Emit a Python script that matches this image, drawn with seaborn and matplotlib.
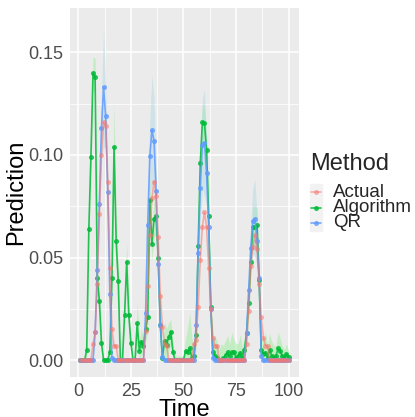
import numpy as np
import pandas as pd
import matplotlib
matplotlib.use("Agg")
import matplotlib.pyplot as plt
from matplotlib.lines import Line2D
from matplotlib.patches import Rectangle
import seaborn as sns

# values, time = 1..100
time = list(range(1, 101))

actual = [0, 0, 0, 0, 0, 0, 0.008, 0.0135, 0.037, 0.071,
          0.100, 0.116, 0.114, 0.087, 0.045, 0.015, 0.007, 0.007, 0, 0,
          0, 0, 0, 0, 0, 0, 0, 0, 0, 0,
          0, 0.014, 0.036, 0.061, 0.079, 0.087, 0.080, 0.060, 0.031, 0.016,
          0.008, 0.007, 0, 0, 0, 0, 0, 0, 0, 0,
          0, 0, 0, 0, 0.008, 0.010, 0.026, 0.049, 0.065, 0.072,
          0.065, 0.045, 0.025, 0.011, 0.007, 0.007, 0, 0, 0, 0,
          0, 0, 0, 0, 0, 0, 0, 0, 0, 0.008,
          0.024, 0.046, 0.055, 0.061, 0.054, 0.037, 0.021, 0.011, 0.007, 0.007,
          0, 0, 0, 0, 0, 0, 0, 0, 0, 0]

algorithm = [0, 0, 0, 0.005, 0.064, 0.099, 0.140, 0.138, 0.040, 0.029,
             0.0085, 0, 0, 0, 0.004, 0.040, 0.104, 0.058, 0.0385, 0,
             0, 0.022, 0.048, 0.022, 0.0085, 0, 0, 0.018, 0.0045, 0.009,
             0.007, 0.015, 0.021, 0.078, 0.0565, 0.069, 0.070, 0.0497, 0.017, 0.001,
             0.0094, 0.0073, 0.0114, 0.0138, 0.004, 0, 0, 0, 0, 0,
             0.0045, 0.0037, 0.006, 0.001, 0.002, 0.012, 0.0556, 0.096, 0.116, 0.1154,
             0.1024, 0.070, 0.026, 0.004, 0.002, 0.001, 0, 0, 0.001, 0.0025,
             0.004, 0.002, 0.0037, 0.004, 0.001, 0.002, 0.0036, 0.001, 0.005, 0.013,
             0.028, 0.048, 0.065, 0.065, 0.066, 0.039, 0.005, 0.003, 0.0036, 0.001,
             0.005, 0.002, 0.001, 0.002, 0.0057, 0.0045, 0.002, 0.001, 0.003, 0.0013]

qr = [0, 0, 0, 0, 0, 0, 0, 0.0135, 0.044, 0.076,
      0.113, 0.133, 0.119, 0.082, 0.032, 0.001, 0, 0, 0, 0,
      0, 0, 0, 0, 0, 0, 0, 0, 0, 0,
      0, 0.023, 0.066, 0.0995, 0.112, 0.107, 0.0826, 0.047, 0.017, 0.0016,
      0, 0, 0, 0, 0, 0, 0, 0, 0, 0,
      0, 0, 0, 0, 0, 0.017, 0.052, 0.084, 0.105, 0.106,
      0.091, 0.065, 0.025, 0.001, 0, 0, 0, 0, 0, 0,
      0, 0, 0, 0, 0, 0, 0, 0, 0, 0.013,
      0.034, 0.0545, 0.068, 0.069, 0.058, 0.040, 0.002, 0, 0, 0,
      0, 0, 0, 0, 0, 0, 0, 0, 0, 0]

# half widths of the shaded bands
alg_band = [0.001, 0.001, 0.001, 0.004, 0.006, 0.008, 0.008, 0.009, 0.008, 0.006,
            0.004, 0.001, 0.001, 0.001, 0.004, 0.008, 0.021, 0.012, 0.008, 0.002,
            0.002, 0.006, 0.009, 0.006, 0.004, 0.002, 0.002, 0.010, 0.005, 0.006,
            0.005, 0.006, 0.008, 0.010, 0.008, 0.009, 0.009, 0.008, 0.005, 0.003,
            0.009, 0.008, 0.007, 0.006, 0.004, 0.002, 0.002, 0.002, 0.002, 0.002,
            0.006, 0.012, 0.017, 0.010, 0.004, 0.006, 0.008, 0.010, 0.009, 0.008,
            0.008, 0.008, 0.006, 0.006, 0.010, 0.008, 0.005, 0.008, 0.006, 0.007,
            0.008, 0.006, 0.010, 0.006, 0.007, 0.006, 0.009, 0.005, 0.006, 0.006,
            0.007, 0.008, 0.009, 0.010, 0.008, 0.006, 0.006, 0.006, 0.010, 0.006,
            0.008, 0.007, 0.006, 0.005, 0.008, 0.006, 0.005, 0.004, 0.005, 0.003]

qr_band = [0, 0, 0, 0, 0, 0, 0, 0.003, 0.008, 0.012,
           0.015, 0.029, 0.016, 0.012, 0.006, 0, 0, 0, 0, 0,
           0, 0, 0, 0, 0, 0, 0, 0, 0, 0,
           0, 0.005, 0.012, 0.018, 0.027, 0.020, 0.014, 0.008, 0.004, 0,
           0, 0, 0, 0, 0, 0, 0, 0, 0, 0,
           0, 0, 0, 0, 0, 0.004, 0.010, 0.016, 0.022, 0.026,
           0.016, 0.010, 0.005, 0, 0, 0, 0, 0, 0, 0,
           0, 0, 0, 0, 0, 0, 0, 0, 0, 0.003,
           0.008, 0.012, 0.016, 0.019, 0.012, 0.008, 0.001, 0, 0, 0,
           0, 0, 0, 0, 0, 0, 0, 0, 0, 0]

methods = ["Actual", "Algorithm", "QR"]
colors = {"Actual": "#F8766D", "Algorithm": "#00BA38", "QR": "#619CFF"}

df = pd.DataFrame({
    "Time": time * 3,
    "Prediction": actual + algorithm + qr,
    "Method": ["Actual"] * 100 + ["Algorithm"] * 100 + ["QR"] * 100,
})

sns.set_theme(style="darkgrid")
plt.rcParams["font.family"] = ["Liberation Sans", "DejaVu Sans"]

fig = plt.figure(figsize=(4.15, 4.17), dpi=100)
ax = fig.add_axes([70 / 415, 1 - 376.7 / 417, 229 / 415, 368.4 / 417])
ax.set_facecolor("#EBEBEB")

# shaded bands
t = np.array(time)
for vals, band, col in [(algorithm, alg_band, "lightgreen"), (qr, qr_band, "lightblue")]:
    v = np.array(vals)
    b = np.array(band)
    ax.fill_between(t, np.clip(v - b, 0, None), v + b, color=col, alpha=0.45,
                    linewidth=0, zorder=1)

sns.lineplot(data=df, x="Time", y="Prediction", hue="Method", palette=colors,
             hue_order=methods, marker="o", markersize=3.6, markeredgewidth=0,
             linewidth=1.2, alpha=0.85, legend=False, ax=ax, zorder=3)
# the Actual series sits on top, semi transparent (mauve zero line of the original)
ax.lines[0].set_zorder(4)
ax.lines[0].set_alpha(0.55)

ax.set_xlim(-3.95, 104.95)
ax.set_ylim(-0.0081, 0.1715)
ax.set_xticks([0, 25, 50, 75, 100])
ax.set_xticks([12.5, 37.5, 62.5, 87.5], minor=True)
ax.set_yticks([0, 0.05, 0.10, 0.15])
ax.set_yticklabels(["0.00", "0.05", "0.10", "0.15"])
ax.set_yticks([0.025, 0.075, 0.125], minor=True)
ax.grid(which="major", color="white", linewidth=1.1)
ax.grid(which="minor", color="white", linewidth=0.55)
ax.set_axisbelow(True)
for s in ax.spines.values():
    s.set_visible(False)
ax.tick_params(axis="both", which="major", length=2.75, width=0.8, color="#333333",
               labelsize=13, labelcolor="#4D4D4D", pad=2)
ax.tick_params(axis="both", which="minor", length=0)
ax.set_xlabel("Time", fontsize=17, color="black", labelpad=-1)
ax.set_ylabel("Prediction", fontsize=17, color="black", labelpad=1)

# legend drawn by hand to match the ggplot layout
fig.text(310 / 415, 1 - 164 / 417, "Method", fontsize=17, ha="left", va="center")
fig.add_artist(Rectangle((309.5 / 415, 1 - 231 / 417), 12 / 415, 47 / 417,
                         transform=fig.transFigure, color="#F2F2F2", zorder=0))
rows_y = [192.3, 207.5, 222.7]
for m, yy in zip(methods, rows_y):
    yf = 1 - yy / 417
    a = 0.55 if m == "Actual" else 0.85
    fig.add_artist(Line2D([311 / 415, 321 / 415], [yf, yf], transform=fig.transFigure,
                          color=colors[m], linewidth=1.2, alpha=a))
    fig.add_artist(Line2D([316 / 415], [yf], transform=fig.transFigure,
                          color=colors[m], marker="o", markersize=3.6,
                          markeredgewidth=0, alpha=a))
    fig.text(333 / 415, yf, m, fontsize=13.5, ha="left", va="center")

fig.savefig("out.png", dpi=100)
